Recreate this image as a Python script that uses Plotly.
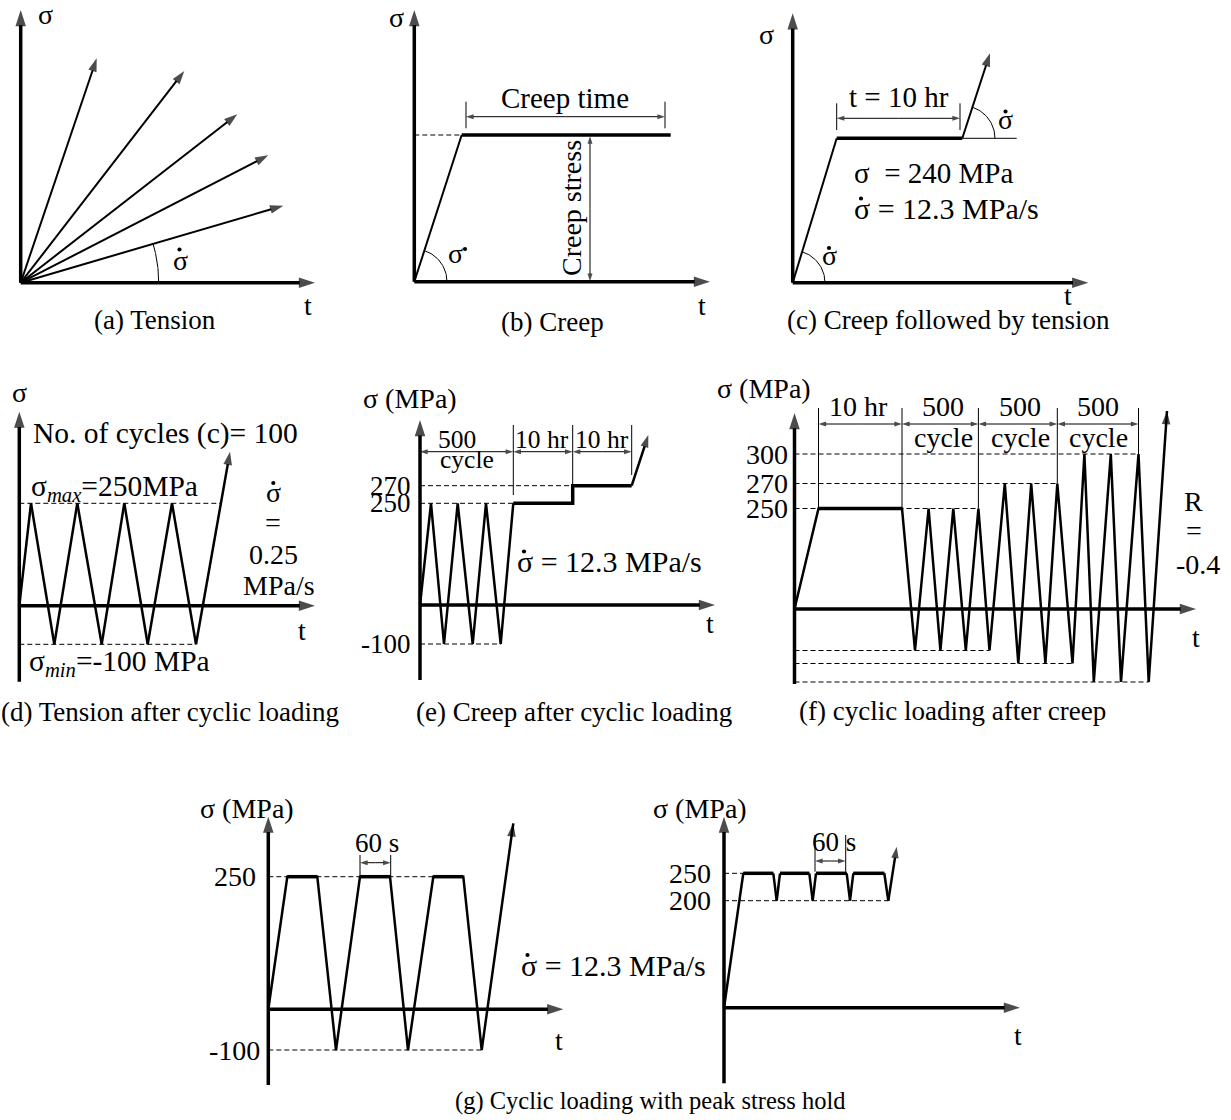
import numpy as np
import plotly.graph_objects as go

W, H = 1231, 1120
FONT = "Liberation Serif, Times New Roman, serif"
SIG = "σ"
DASH = "5px,3px"

# ---------------- data (schematic t / sigma values) ----------------
# (a) tension: end points of the constant-rate loading lines
a_tip_t = [76.0, 163.6, 216.6, 247.6, 262.6]
a_tip_s = [224.4, 211.7, 168.4, 127.4, 77.0]

# (b) creep: ramp then hold
b_t = [0, 47.4, 256.4]
b_s = [0, 146.7, 146.7]

# (c) creep followed by tension
c_t = [0, 44.0, 169.6, 197.3]
c_s = [0, 144.4, 144.4, 229.4]

# (d) tension after cyclic loading  (sigma_max=250, sigma_min=-100)
d_t = [0, 11.7, 35.0, 58.0, 82.4, 105.0, 128.4, 152.7, 176.7, 210.7]
d_s = [0, 102.4, -38.6, 102.4, -38.6, 102.4, -38.6, 102.4, -38.6, 154.0]
d_levels = [102.4, -38.6]

# (e) creep after cyclic loading
e_t = [0, 11.0, 24.0, 37.7, 52.7, 66.0, 80.7, 93.3]
e_s = [0, 101.7, -39.0, 101.7, -39.0, 101.7, -39.0, 101.7]
e_hold_t = [93.3, 152.7, 152.7, 211.7]
e_hold_s = [101.7, 101.7, 119.3, 119.3]
e_tip_t, e_tip_s = 228.3, 170.0
e_tick_vals = [119.3, 101.7, -39.0]
e_tick_text = ["270", "250", "-100"]

# (f) cyclic loading after creep
f_t = [0, 24.0, 107.5, 120.5, 134.1, 145.9, 158.8, 171.3, 183.9, 195.0, 210.3, 223.8,
       236.7, 250.9, 262.8, 278.0, 289.9, 299.3, 316.3, 326.5, 344.0, 354.2, 372.5]
f_s = [0, 100.5, 100.5, -41.5, 100.5, -41.5, 100.5, -41.5, 100.5, -41.5, 125.5, -54.5,
       125.5, -54.5, 125.5, -54.5, 155.0, -73.0, 155.0, -73.0, 155.0, -73.0, 198.0]
f_tick_vals = [155.0, 125.5, 100.5]
f_tick_text = ["300", "270", "250"]
f_peak_lv = [155.0, 125.5, 100.5, -41.5, -54.5, -73.0]
f_peak_end = [344.0, 262.8, 183.9, 195.0, 278.0, 354.2]
f_blocks = [24.0, 107.5, 183.9, 262.8, 344.0]
f_block_lv = [100.5, 100.5, 100.5, 125.5, 155.0]

# (g) cyclic loading with peak stress hold
g1_t = [0, 19.0, 49.0, 67.7, 91.7, 121.7, 139.7, 165.0, 195.0, 213.4, 245.0]
g1_s = [0, 132.6, 132.6, -40.7, 132.6, 132.6, -40.7, 132.6, 132.6, -40.7, 186.0]
g1_tick_vals = [132.6, -40.7]
g1_tick_text = ["250", "-100"]
g2_t = [0, 19.3, 49.3, 52.7, 56.0, 85.3, 88.7, 92.0, 122.7, 126.0, 129.3, 160.3, 164.3, 172.7]
g2_s = [0, 134.4, 134.4, 107.0, 134.4, 134.4, 107.0, 134.4, 134.4, 107.0, 134.4, 134.4, 107.0, 161.0]
g2_tick_vals = [134.4, 107.0]
g2_tick_text = ["250", "200"]

# ---------------- layout geometry of the panels (figure pixels) ----------------
# origin x, origin y, t-axis length, sigma-axis top, sigma-axis bottom
G = {
    'a': (20.7, 282.7, 294.3, 272.7, 0),
    'b': (414.3, 281.7, 295.7, 271.7, 0),
    'c': (792.7, 282.7, 295.6, 269.4, 0),
    'd': (19.3, 605.7, 295.7, 194.0, -76.0),
    'e': (420.0, 605.0, 295.0, 185.0, -75.0),
    'f': (794.5, 609.0, 401.5, 196.0, -75.0),
    'g1': (268.3, 1009.3, 295.0, 192.6, -75.7),
    'g2': (724.0, 1007.7, 296.0, 191.0, -75.6),
}
keys = list(G.keys())

fig = go.Figure()
lay = {}
for i, k in enumerate(keys, start=1):
    ox, oy = G[k][0], G[k][1]
    sx = '' if i == 1 else str(i)
    lay['xaxis' + sx] = dict(domain=[0, 1], range=[-ox, W - ox], visible=False,
                             fixedrange=True, anchor='y' + sx)
    lay['yaxis' + sx] = dict(domain=[0, 1], range=[oy - H, oy], visible=False,
                             fixedrange=True, anchor='x' + sx)


def ids(k):
    i = keys.index(k) + 1
    sx = '' if i == 1 else str(i)
    return 'x' + sx, 'y' + sx


def line(k, t, s, width=2.0, dash=None, head=0):
    xa, ya = ids(k)
    t = list(t)
    s = list(s)
    tr = go.Scatter(x=t, y=s, xaxis=xa, yaxis=ya,
                    mode='lines+markers' if head else 'lines',
                    line=dict(color='black', width=width, dash=dash),
                    hoverinfo='skip', showlegend=False)
    if head:
        tr.marker = dict(symbol='arrow', size=[0] * (len(t) - 1) + [head],
                         angleref='previous', color='black', line=dict(width=0))
    fig.add_trace(tr)


def axes(k):
    ox, oy, tl, st, sb = G[k]
    line(k, [0, 0], [sb, st], 3.5, head=17)
    line(k, [0, tl], [0, 0], 3.5, head=17)


def dim(k, t0, t1, s0, s1, head=8):
    tm, sm = (t0 + t1) / 2, (s0 + s1) / 2
    line(k, [tm, t0], [sm, s0], 1, head=head)
    line(k, [tm, t1], [sm, s1], 1, head=head)


def vtick(k, t, s0, s1):
    line(k, [t, t], [s0, s1], 1)


def arc(k, ct, cs, r, a0, a1):
    th = np.radians(np.linspace(a0, a1, 40))
    line(k, ct + r * np.cos(th), cs + r * np.sin(th), 1)


def holds(k, t, s, width=3.5):
    for i in range(len(t) - 1):
        if s[i] == s[i + 1] and s[i] > 0:
            line(k, [t[i], t[i + 1]], [s[i], s[i + 1]], width)


def ang(dt, ds):
    return np.degrees(np.arctan2(ds, dt))


def text(X, Y, s, size=28, xanchor='center', angle=0):
    fig.add_annotation(x=X / W, y=1 - Y / H, xref='paper', yref='paper', text=s,
                       showarrow=False, xanchor=xanchor, yanchor='middle',
                       textangle=angle, font=dict(family=FONT, size=size, color='black'))


def dot(X, Y, r=2.1):
    fig.add_shape(type='circle', xref='paper', yref='paper',
                  x0=(X - r) / W, x1=(X + r) / W, y0=1 - (Y + r) / H, y1=1 - (Y - r) / H,
                  fillcolor='black', line=dict(width=0))


def sdot(X, Yb, dx=0, dy=-14, size=28):
    # sigma-dot: sigma whose body is centred at (X, Yb) with a dot above it
    text(X, Yb - 3, SIG, size)
    dot(X + dx, Yb + dy)


def ptext(k, t, s, txt, size=28, xanchor='right'):
    xa, ya = ids(k)
    fig.add_annotation(x=t, y=s, xref=xa, yref=ya, text=txt, showarrow=False,
                       xanchor=xanchor, yanchor='middle',
                       font=dict(family=FONT, size=size, color='black'))


# ---------------- (a) Tension ----------------
axes('a')
for tt, ss in zip(a_tip_t, a_tip_s):
    line('a', [0, tt], [0, ss], 2, head=14)
arc('a', 0, 0, 138, 0, ang(a_tip_t[-1], a_tip_s[-1]))
text(45, 15, SIG)
sdot(180, 263.5, dx=-0.5)
text(308, 305, "t")
text(155, 320, "(a) Tension", 27)

# ---------------- (b) Creep ----------------
axes('b')
line('b', b_t[:2], b_s[:2], 2)
holds('b', b_t, b_s)
line('b', [0, b_t[1]], [b_s[1], b_s[1]], 1, DASH)
dim('b', 51.7, 250.7, 165, 165)
vtick('b', 51.7, 153.4, 180)
vtick('b', 250.7, 153.4, 180)
dim('b', 175.7, 175.7, 0.5, 145.5)
arc('b', 0, 0, 32.7, 0, ang(b_t[1], b_s[1]))
text(396, 18, SIG)
text(565, 98, "Creep time", 29)
text(571, 208, "Creep stress", 28, angle=-90)
sdot(455, 257, dx=10, dy=-8)
text(702, 305, "t")
text(552, 322, "(b) Creep", 27)

# ---------------- (c) Creep followed by tension ----------------
axes('c')
line('c', c_t[:2], c_s[:2], 2)
holds('c', c_t[:3], c_s[:3])
line('c', c_t[2:], c_s[2:], 2, head=14)
line('c', [c_t[2], c_t[2] + 54.4], [c_s[2], c_s[2]], 1)
arc('c', c_t[2], c_s[2], 32.7, 0, ang(c_t[3] - c_t[2], c_s[3] - c_s[2]))
arc('c', 0, 0, 32.3, 0, ang(c_t[1], c_s[1]))
dim('c', 44, 167.3, 164.4, 164.4)
vtick('c', 44, 152.7, 179.4)
vtick('c', 167.3, 152.7, 179.4)
text(766, 34, SIG)
text(899, 97, "t = 10 hr", 29)
sdot(1005.5, 122.5, dy=-11)
text(852, 173, SIG + "  = 240 MPa", 29, 'left')
text(852, 208.7, SIG + " = 12.3 MPa/s", 30, 'left')
dot(861, 198.5)
sdot(829, 259, dy=-11)
text(1068, 296, "t")
text(948, 320, "(c) Creep followed by tension", 27)

# ---------------- (d) Tension after cyclic loading ----------------
axes('d')
line('d', d_t, d_s, 2.5, head=14)
line('d', [0, 200.7], [d_levels[0]] * 2, 1, DASH)
line('d', [0, d_t[-2]], [d_levels[1]] * 2, 1, DASH)
text(20, 392, SIG)
text(31, 433, "No. of cycles (c)= 100", 29.5, 'left')
text(29, 488, SIG + "<sub><i>max</i></sub>=250MPa", 29.5, 'left')
text(27, 663, SIG + "<sub><i>min</i></sub>=-100 MPa", 29.5, 'left')
sdot(273.3, 495, dy=-12)
text(273, 522, "=")
text(273, 554, "0.25")
text(279, 585, "MPa/s")
text(302, 630, "t")
text(170, 712, "(d) Tension after cyclic loading", 27)

# ---------------- (e) Creep after cyclic loading ----------------
axes('e')
line('e', e_t, e_s, 2.5)
line('e', e_hold_t, e_hold_s, 3.5)
line('e', [e_hold_t[-1], e_tip_t], [e_hold_s[-1], e_tip_s], 2.5, head=13)
line('e', [0, e_hold_t[1]], [e_hold_s[2]] * 2, 1, DASH)
line('e', [0, e_t[-1]], [e_s[-1]] * 2, 1, DASH)
line('e', [0, e_t[-2]], [e_s[-2]] * 2, 1, DASH)
dim('e', 0, e_hold_t[0], 153.3, 153.3)
dim('e', e_hold_t[0], e_hold_t[1], 153.3, 153.3)
dim('e', e_hold_t[1], e_hold_t[3], 153.3, 153.3)
vtick('e', e_hold_t[0], 110, 180)
vtick('e', e_hold_t[1], 120, 180)
vtick('e', e_hold_t[3], 130, 180)
for v, tx in zip(e_tick_vals, e_tick_text):
    ptext('e', -7, v, tx, 27)
text(410, 398, SIG + " (MPa)")
text(457, 439, "500", 25.5)
text(467, 459, "cycle", 25.5)
text(542, 440, "10 hr", 25.5)
text(602, 440, "10 hr", 25.5)
text(515, 561, SIG + " = 12.3 MPa/s", 30, 'left')
dot(524, 551.5)
text(710, 623, "t")
text(574, 712, "(e) Creep after cyclic loading", 27)

# ---------------- (f) cyclic loading after creep ----------------
axes('f')
line('f', f_t, f_s, 2.5, head=14)
holds('f', f_t[:3], f_s[:3])
for lv, te in zip(f_peak_lv, f_peak_end):
    line('f', [0, te], [lv, lv], 1, DASH)
for i in range(len(f_blocks) - 1):
    dim('f', f_blocks[i], f_blocks[i + 1], 185, 185)
for tb, lv in zip(f_blocks, f_block_lv):
    vtick('f', tb, lv, 201)
for v, tx in zip(f_tick_vals, f_tick_text):
    ptext('f', -5, v, tx)
text(764, 388, SIG + " (MPa)")
text(858, 407, "10 hr")
for xc in [943, 1020, 1098]:
    text(xc, 407, "500")
    text(xc, 437, "cycle")
text(1193, 502, "R")
text(1194, 530, "=")
text(1198, 564, "-0.4")
text(1196, 637, "t")
text(952, 711, "(f) cyclic loading after creep", 27)

# ---------------- (g) peak stress hold ----------------
axes('g1')
line('g1', g1_t, g1_s, 2.5, head=14)
holds('g1', g1_t, g1_s)
line('g1', [0, g1_t[8]], [g1_tick_vals[0]] * 2, 1, DASH)
line('g1', [0, g1_t[9]], [g1_tick_vals[1]] * 2, 1, DASH)
dim('g1', g1_t[4], g1_t[5] + 0.7, 146.6, 146.6)
vtick('g1', g1_t[4], g1_tick_vals[0], 154.3)
vtick('g1', g1_t[5] + 0.7, g1_tick_vals[0], 154.3)
ptext('g1', -10, g1_tick_vals[0], g1_tick_text[0])
ptext('g1', -6, g1_tick_vals[1], g1_tick_text[1])
text(247, 808, SIG + " (MPa)")
text(377, 843, "60 s", 27)
text(559, 1040, "t")
text(519, 965, SIG + " = 12.3 MPa/s", 30, 'left')
dot(527.5, 955)

axes('g2')
line('g2', g2_t, g2_s, 2.5, head=12)
holds('g2', g2_t, g2_s)
line('g2', [0, g2_t[1]], [g2_tick_vals[0]] * 2, 1, DASH)
line('g2', [0, g2_t[-2]], [g2_tick_vals[1]] * 2, 1, DASH)
dim('g2', 91.0, 121.7, 146.7, 146.7)
vtick('g2', 91.0, 136, 172.7)
vtick('g2', 121.7, 136, 172.7)
for v, tx in zip(g2_tick_vals, g2_tick_text):
    ptext('g2', -11, v, tx)
text(700, 808, SIG + " (MPa)")
text(834, 842, "60 s", 27)
text(1018, 1035, "t")
text(650, 1101, "(g) Cyclic loading with peak stress hold", 24.5)

fig.update_layout(width=W, height=H, autosize=False,
                  margin=dict(l=0, r=0, t=0, b=0, pad=0),
                  paper_bgcolor='white', plot_bgcolor='rgba(0,0,0,0)',
                  showlegend=False, **lay)
fig.write_html("out.html", include_plotlyjs=True, config=dict(displayModeBar=False, staticPlot=True))
